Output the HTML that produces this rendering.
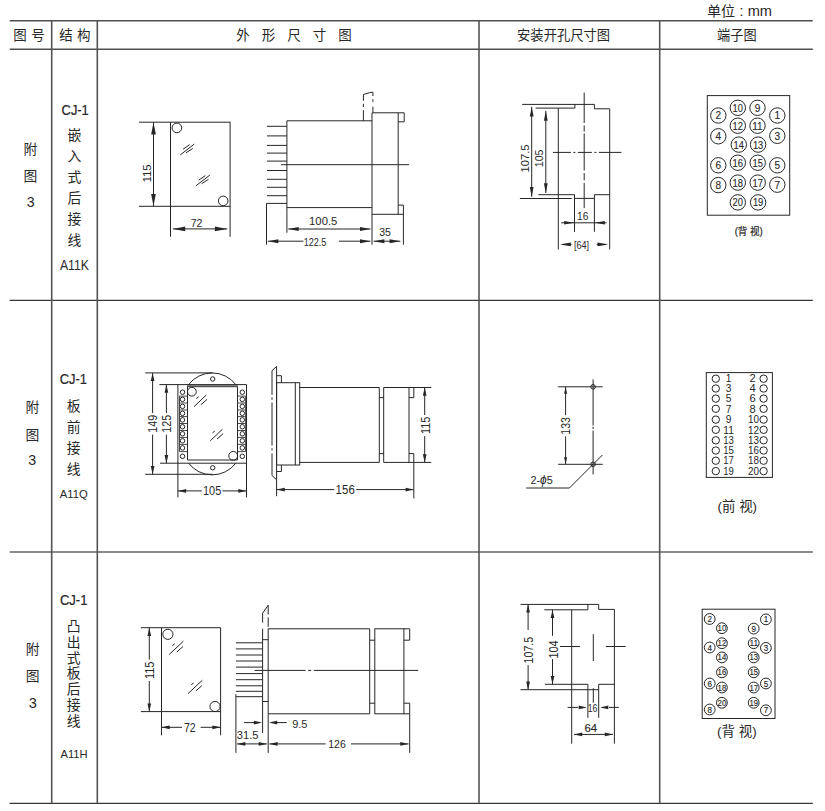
<!DOCTYPE html>
<html lang="zh-CN">
<head>
<meta charset="utf-8">
<title>CJ-1 外形尺寸图 / 安装开孔尺寸图 / 端子图</title>
<style>
html,body{margin:0;padding:0;background:#fff;}
body{width:825px;height:811px;overflow:hidden;}
svg{display:block;}
svg text{font-family:"Liberation Sans", "Noto Sans CJK SC", sans-serif;white-space:pre;}
</style>
</head>
<body>
<svg width="825" height="811" viewBox="0 0 825 811">
<rect x="0" y="0" width="825" height="811" fill="#fff"/>
<line x1="9.7" y1="20.8" x2="812.8" y2="20.8" stroke="#505050" stroke-width="1.6"/>
<line x1="9.7" y1="49.3" x2="812.8" y2="49.3" stroke="#505050" stroke-width="1.5"/>
<line x1="9.7" y1="300.3" x2="812.8" y2="300.3" stroke="#383838" stroke-width="1.15"/>
<line x1="9.7" y1="552" x2="812.8" y2="552" stroke="#646464" stroke-width="1.7"/>
<line x1="9.6" y1="803.3" x2="812.8" y2="803.3" stroke="#383838" stroke-width="1.15"/>
<line x1="51.7" y1="20.8" x2="51.7" y2="803.3" stroke="#545454" stroke-width="1.6"/>
<line x1="97.3" y1="20.8" x2="97.3" y2="803.3" stroke="#545454" stroke-width="1.6"/>
<line x1="479" y1="20.8" x2="479" y2="803.3" stroke="#545454" stroke-width="1.6"/>
<line x1="659.7" y1="20.8" x2="659.7" y2="803.3" stroke="#545454" stroke-width="1.6"/>
<text y="16.4" font-size="14" fill="#282828"><tspan x="707">单位</tspan><tspan x="739.4">:</tspan><tspan x="747.7" font-size="14.4" textLength="24.3" lengthAdjust="spacingAndGlyphs">mm</tspan></text>
<text x="19.9" y="40.4" font-size="13.5" text-anchor="middle" fill="#282828">图</text>
<text x="38" y="40.4" font-size="13.5" text-anchor="middle" fill="#282828">号</text>
<text x="66" y="40.4" font-size="13.5" text-anchor="middle" fill="#282828">结</text>
<text x="83.8" y="40.4" font-size="13.5" text-anchor="middle" fill="#282828">构</text>
<text x="242.9" y="40.4" font-size="13.5" text-anchor="middle" fill="#282828">外</text>
<text x="268.45" y="40.4" font-size="13.5" text-anchor="middle" fill="#282828">形</text>
<text x="294" y="40.4" font-size="13.5" text-anchor="middle" fill="#282828">尺</text>
<text x="319.55" y="40.4" font-size="13.5" text-anchor="middle" fill="#282828">寸</text>
<text x="345.1" y="40.4" font-size="13.5" text-anchor="middle" fill="#282828">图</text>
<text x="563.6" y="40.4" font-size="13.5" text-anchor="middle" fill="#282828" textLength="93.1" lengthAdjust="spacingAndGlyphs">安装开孔尺寸图</text>
<text x="736.8" y="40.4" font-size="13.5" text-anchor="middle" fill="#282828" textLength="39.6" lengthAdjust="spacingAndGlyphs">端子图</text>
<text x="30.4" y="154.47" font-size="13.8" text-anchor="middle" fill="#282828">附</text>
<text x="30.4" y="181.17" font-size="13.8" text-anchor="middle" fill="#282828">图</text>
<text x="30.6" y="206.9" font-size="14.2" text-anchor="middle" fill="#282828">3</text>
<text x="75.2" y="115.4" font-size="14.8" text-anchor="middle" fill="#282828" textLength="27.2" lengthAdjust="spacingAndGlyphs" stroke="#282828" stroke-width="0.22">CJ-1</text>
<text x="74.4" y="140.27" font-size="13.8" text-anchor="middle" fill="#282828">嵌</text>
<text x="74.4" y="161.12" font-size="13.8" text-anchor="middle" fill="#282828">入</text>
<text x="74.4" y="181.97" font-size="13.8" text-anchor="middle" fill="#282828">式</text>
<text x="74.4" y="202.82" font-size="13.8" text-anchor="middle" fill="#282828">后</text>
<text x="74.4" y="223.67" font-size="13.8" text-anchor="middle" fill="#282828">接</text>
<text x="74.4" y="244.52" font-size="13.8" text-anchor="middle" fill="#282828">线</text>
<text x="74.4" y="270.2" font-size="14.6" text-anchor="middle" fill="#282828" textLength="29" lengthAdjust="spacingAndGlyphs">A11K</text>
<text x="32.3" y="412.17" font-size="13.8" text-anchor="middle" fill="#282828">附</text>
<text x="32.3" y="439.57" font-size="13.8" text-anchor="middle" fill="#282828">图</text>
<text x="32.3" y="464.9" font-size="14.2" text-anchor="middle" fill="#282828">3</text>
<text x="73.4" y="384.2" font-size="14.4" text-anchor="middle" fill="#282828" textLength="27.3" lengthAdjust="spacingAndGlyphs" stroke="#282828" stroke-width="0.22">CJ-1</text>
<text x="73.6" y="411.17" font-size="13.8" text-anchor="middle" fill="#282828">板</text>
<text x="73.6" y="431.97" font-size="13.8" text-anchor="middle" fill="#282828">前</text>
<text x="73.6" y="452.77" font-size="13.8" text-anchor="middle" fill="#282828">接</text>
<text x="73.6" y="473.57" font-size="13.8" text-anchor="middle" fill="#282828">线</text>
<text x="73.7" y="497.7" font-size="11.6" text-anchor="middle" fill="#282828" textLength="27.9" lengthAdjust="spacingAndGlyphs">A11Q</text>
<text x="32.7" y="653.97" font-size="13.8" text-anchor="middle" fill="#282828">附</text>
<text x="32.7" y="680.57" font-size="13.8" text-anchor="middle" fill="#282828">图</text>
<text x="32.8" y="708" font-size="14.6" text-anchor="middle" fill="#282828">3</text>
<text x="73.7" y="605.4" font-size="14.8" text-anchor="middle" fill="#282828" textLength="27.6" lengthAdjust="spacingAndGlyphs" stroke="#282828" stroke-width="0.22">CJ-1</text>
<text x="73.6" y="630.87" font-size="13.8" text-anchor="middle" fill="#282828">凸</text>
<text x="73.6" y="646.7" font-size="13.8" text-anchor="middle" fill="#282828">出</text>
<text x="73.6" y="662.53" font-size="13.8" text-anchor="middle" fill="#282828">式</text>
<text x="73.6" y="678.36" font-size="13.8" text-anchor="middle" fill="#282828">板</text>
<text x="73.6" y="694.19" font-size="13.8" text-anchor="middle" fill="#282828">后</text>
<text x="73.6" y="710.02" font-size="13.8" text-anchor="middle" fill="#282828">接</text>
<text x="73.6" y="725.85" font-size="13.8" text-anchor="middle" fill="#282828">线</text>
<text x="74" y="758.1" font-size="11" text-anchor="middle" fill="#282828" textLength="27.1" lengthAdjust="spacingAndGlyphs">A11H</text>
<line x1="139" y1="122.2" x2="230.4" y2="122.2" stroke="#262626" stroke-width="1"/>
<line x1="139" y1="206.3" x2="230.4" y2="206.3" stroke="#262626" stroke-width="1"/>
<line x1="170.5" y1="122.2" x2="170.5" y2="236.8" stroke="#262626" stroke-width="1"/>
<line x1="230.1" y1="122.2" x2="230.1" y2="236.8" stroke="#262626" stroke-width="1"/>
<circle cx="176.9" cy="127.9" r="4.8" fill="none" stroke="#262626" stroke-width="1"/>
<circle cx="223.2" cy="200.9" r="4.8" fill="none" stroke="#262626" stroke-width="1"/>
<line x1="180.25" y1="154.9" x2="194.25" y2="144.1" stroke="#262626" stroke-width="1"/>
<line x1="185.9" y1="152.8" x2="192.8" y2="148.4" stroke="#262626" stroke-width="1"/>
<line x1="183" y1="149.3" x2="189.6" y2="144.7" stroke="#262626" stroke-width="1"/>
<line x1="195.95" y1="185.8" x2="209.95" y2="175" stroke="#262626" stroke-width="1"/>
<line x1="201.6" y1="183.7" x2="208.5" y2="179.3" stroke="#262626" stroke-width="1"/>
<line x1="198.7" y1="180.2" x2="205.3" y2="175.6" stroke="#262626" stroke-width="1"/>
<line x1="153.5" y1="122.2" x2="153.5" y2="206.3" stroke="#262626" stroke-width="1"/>
<polygon points="153.5,122.2 155.85,134.5 151.15,134.5" fill="#262626"/>
<polygon points="153.5,206.3 151.15,194 155.85,194" fill="#262626"/>
<text x="150.98" y="173.4" font-size="11.6" text-anchor="middle" fill="#282828" textLength="18.2" lengthAdjust="spacingAndGlyphs" transform="rotate(-90 150.98 173.4)">115</text>
<line x1="172.9" y1="228.9" x2="227.2" y2="228.9" stroke="#262626" stroke-width="1"/>
<polygon points="172.9,228.9 185.2,226.55 185.2,231.25" fill="#262626"/>
<polygon points="227.2,228.9 214.9,231.25 214.9,226.55" fill="#262626"/>
<text x="196.6" y="226.6" font-size="11.6" text-anchor="middle" fill="#282828" textLength="11.8" lengthAdjust="spacingAndGlyphs">72</text>
<polyline points="286.9,232.8 286.9,120.8 372,120.8" fill="none" stroke="#262626" stroke-width="1"/>
<line x1="286.9" y1="207.6" x2="372" y2="207.6" stroke="#262626" stroke-width="1"/>
<line x1="267" y1="126.3" x2="286.9" y2="126.3" stroke="#262626" stroke-width="1"/>
<line x1="267" y1="135.9" x2="286.9" y2="135.9" stroke="#262626" stroke-width="1"/>
<line x1="267" y1="145.4" x2="286.9" y2="145.4" stroke="#262626" stroke-width="1"/>
<line x1="267" y1="153.1" x2="286.9" y2="153.1" stroke="#262626" stroke-width="1"/>
<line x1="267" y1="161.1" x2="286.9" y2="161.1" stroke="#262626" stroke-width="1"/>
<line x1="267" y1="170.5" x2="286.9" y2="170.5" stroke="#262626" stroke-width="1"/>
<line x1="267" y1="179.3" x2="286.9" y2="179.3" stroke="#262626" stroke-width="1"/>
<line x1="267" y1="187.3" x2="286.9" y2="187.3" stroke="#262626" stroke-width="1"/>
<line x1="267" y1="195.7" x2="286.9" y2="195.7" stroke="#262626" stroke-width="1"/>
<line x1="281.2" y1="164.7" x2="409.1" y2="164.7" stroke="#262626" stroke-width="1"/>
<polyline points="286.9,203.4 266.5,203.4 266.5,244.7" fill="none" stroke="#262626" stroke-width="1"/>
<line x1="372" y1="112.8" x2="372" y2="244.7" stroke="#262626" stroke-width="1"/>
<line x1="372" y1="112.8" x2="404.2" y2="112.8" stroke="#262626" stroke-width="1"/>
<line x1="398.2" y1="112.8" x2="398.2" y2="214.3" stroke="#262626" stroke-width="1"/>
<polyline points="404.2,112.8 404.2,121.8 398.2,121.8" fill="none" stroke="#262626" stroke-width="1"/>
<line x1="372" y1="214.3" x2="403.4" y2="214.3" stroke="#262626" stroke-width="1"/>
<polyline points="398.2,205.1 403.4,205.1 403.4,244.7" fill="none" stroke="#262626" stroke-width="1"/>
<line x1="363.4" y1="120.8" x2="363.4" y2="110.2" stroke="#262626" stroke-width="1"/>
<line x1="363.4" y1="107.1" x2="363.4" y2="103.9" stroke="#262626" stroke-width="1"/>
<polyline points="363.4,100.8 363.4,94.5 369.3,92.7 372.9,92.2 372.9,96" fill="none" stroke="#262626" stroke-width="1"/>
<line x1="372.9" y1="99.2" x2="372.9" y2="101.9" stroke="#262626" stroke-width="1"/>
<line x1="372.9" y1="106.7" x2="372.9" y2="112.6" stroke="#262626" stroke-width="1"/>
<line x1="288.3" y1="229" x2="370.4" y2="229" stroke="#262626" stroke-width="1"/>
<polygon points="288.3,229 298.7,227.05 298.7,230.95" fill="#262626"/>
<polygon points="370.4,229 360,230.95 360,227.05" fill="#262626"/>
<text x="323.2" y="225" font-size="11.6" text-anchor="middle" fill="#282828" textLength="28.2" lengthAdjust="spacingAndGlyphs">100.5</text>
<line x1="267.9" y1="241.2" x2="303.4" y2="241.2" stroke="#262626" stroke-width="1"/>
<line x1="339" y1="241.2" x2="370.4" y2="241.2" stroke="#262626" stroke-width="1"/>
<polygon points="267.9,241.2 278.3,239.25 278.3,243.15" fill="#262626"/>
<polygon points="370.4,241.2 360,243.15 360,239.25" fill="#262626"/>
<text x="315" y="245.9" font-size="10.6" text-anchor="middle" fill="#282828" textLength="22.7" lengthAdjust="spacingAndGlyphs">122.5</text>
<line x1="373.6" y1="241.2" x2="400.4" y2="241.2" stroke="#262626" stroke-width="1"/>
<polygon points="373.6,241.2 384.4,239.25 384.4,243.15" fill="#262626"/>
<polygon points="400.4,241.2 389.6,243.15 389.6,239.25" fill="#262626"/>
<text x="385" y="236.3" font-size="11.6" text-anchor="middle" fill="#282828" textLength="11.7" lengthAdjust="spacingAndGlyphs">35</text>
<polyline points="522.2,104.4 594.4,104.4 594.4,108.8 609.7,108.8 609.7,249.5" fill="none" stroke="#262626" stroke-width="1"/>
<polyline points="535.6,108.1 574.9,108.1 574.9,104.4" fill="none" stroke="#262626" stroke-width="1"/>
<line x1="558.3" y1="108.1" x2="558.3" y2="249.5" stroke="#262626" stroke-width="1"/>
<line x1="584.2" y1="92.6" x2="584.2" y2="208.1" stroke="#262626" stroke-width="1" stroke-dasharray="30.4 2.4 6.2 1.8 37.1 2.6 7.2 2.7 25"/>
<line x1="552.9" y1="152.4" x2="621.4" y2="152.4" stroke="#262626" stroke-width="1" stroke-dasharray="18 2.5 2 2.5 14 2.5 2 2.5 30"/>
<polyline points="538.4,194.7 574.5,194.7 574.5,231.8" fill="none" stroke="#262626" stroke-width="1"/>
<line x1="519.9" y1="198.5" x2="571.8" y2="198.5" stroke="#262626" stroke-width="1"/>
<line x1="574.5" y1="198.4" x2="594.4" y2="198.4" stroke="#262626" stroke-width="1"/>
<polyline points="609.7,194.7 594.4,194.7 594.4,231.8" fill="none" stroke="#262626" stroke-width="1"/>
<line x1="531.7" y1="106.8" x2="531.7" y2="196.8" stroke="#262626" stroke-width="1"/>
<polygon points="531.7,106.8 533.6,116.6 529.8,116.6" fill="#262626"/>
<polygon points="531.7,196.8 529.8,187 533.6,187" fill="#262626"/>
<text x="528.88" y="158.4" font-size="11.6" text-anchor="middle" fill="#282828" textLength="28" lengthAdjust="spacingAndGlyphs" transform="rotate(-90 528.88 158.4)">107.5</text>
<line x1="545.8" y1="110.9" x2="545.8" y2="193" stroke="#262626" stroke-width="1"/>
<polygon points="545.8,110.9 547.7,120.7 543.9,120.7" fill="#262626"/>
<polygon points="545.8,193 543.9,183.2 547.7,183.2" fill="#262626"/>
<text x="543.08" y="158.4" font-size="11.6" text-anchor="middle" fill="#282828" textLength="17.7" lengthAdjust="spacingAndGlyphs" transform="rotate(-90 543.08 158.4)">105</text>
<line x1="561.1" y1="222.8" x2="606.5" y2="222.8" stroke="#262626" stroke-width="1"/>
<polygon points="574.3,222.8 564.1,224.6 564.1,221" fill="#262626"/>
<polygon points="594.6,222.8 604.8,221 604.8,224.6" fill="#262626"/>
<text x="582.8" y="220" font-size="11.6" text-anchor="middle" fill="#282828" textLength="11.4" lengthAdjust="spacingAndGlyphs">16</text>
<line x1="562" y1="244.4" x2="571.6" y2="244.4" stroke="#262626" stroke-width="1"/>
<line x1="596.6" y1="244.4" x2="606" y2="244.4" stroke="#262626" stroke-width="1"/>
<polygon points="560,244.4 570.8,242.6 570.8,246.2" fill="#262626"/>
<polygon points="608.3,244.4 597.5,246.2 597.5,242.6" fill="#262626"/>
<text x="581.6" y="249" font-size="11" text-anchor="middle" fill="#282828" textLength="15.1" lengthAdjust="spacingAndGlyphs">[64]</text>
<rect x="707.3" y="95.6" width="82.4" height="119.6" fill="none" stroke="#262626" stroke-width="1"/>
<circle cx="718.3" cy="115.5" r="7.7" fill="none" stroke="#262626" stroke-width="1"/>
<text x="718.3" y="119.4" font-size="10.8" text-anchor="middle" fill="#282828" textLength="5.6" lengthAdjust="spacingAndGlyphs" stroke="#282828" stroke-width="0.12">2</text>
<circle cx="737.8" cy="107.8" r="7.7" fill="none" stroke="#262626" stroke-width="1"/>
<text x="737.8" y="111.7" font-size="10.8" text-anchor="middle" fill="#282828" textLength="10.4" lengthAdjust="spacingAndGlyphs" stroke="#282828" stroke-width="0.12">10</text>
<circle cx="757.5" cy="107.8" r="7.7" fill="none" stroke="#262626" stroke-width="1"/>
<text x="757.5" y="111.7" font-size="10.8" text-anchor="middle" fill="#282828" textLength="5.6" lengthAdjust="spacingAndGlyphs" stroke="#282828" stroke-width="0.12">9</text>
<circle cx="777.3" cy="115.5" r="7.7" fill="none" stroke="#262626" stroke-width="1"/>
<text x="777.3" y="119.4" font-size="10.8" text-anchor="middle" fill="#282828" textLength="5.6" lengthAdjust="spacingAndGlyphs" stroke="#282828" stroke-width="0.12">1</text>
<circle cx="737.8" cy="125.7" r="7.7" fill="none" stroke="#262626" stroke-width="1"/>
<text x="737.8" y="129.6" font-size="10.8" text-anchor="middle" fill="#282828" textLength="10.4" lengthAdjust="spacingAndGlyphs" stroke="#282828" stroke-width="0.12">12</text>
<circle cx="757.5" cy="125.7" r="7.7" fill="none" stroke="#262626" stroke-width="1"/>
<text x="757.5" y="129.6" font-size="10.8" text-anchor="middle" fill="#282828" textLength="10.4" lengthAdjust="spacingAndGlyphs" stroke="#282828" stroke-width="0.12">11</text>
<circle cx="718.3" cy="136.3" r="7.7" fill="none" stroke="#262626" stroke-width="1"/>
<text x="718.3" y="140.2" font-size="10.8" text-anchor="middle" fill="#282828" textLength="5.6" lengthAdjust="spacingAndGlyphs" stroke="#282828" stroke-width="0.12">4</text>
<circle cx="777.3" cy="135.8" r="7.7" fill="none" stroke="#262626" stroke-width="1"/>
<text x="777.3" y="139.7" font-size="10.8" text-anchor="middle" fill="#282828" textLength="5.6" lengthAdjust="spacingAndGlyphs" stroke="#282828" stroke-width="0.12">3</text>
<circle cx="738.8" cy="144.6" r="7.7" fill="none" stroke="#262626" stroke-width="1"/>
<text x="738.8" y="148.5" font-size="10.8" text-anchor="middle" fill="#282828" textLength="10.4" lengthAdjust="spacingAndGlyphs" stroke="#282828" stroke-width="0.12">14</text>
<circle cx="758.1" cy="144.6" r="7.7" fill="none" stroke="#262626" stroke-width="1"/>
<text x="758.1" y="148.5" font-size="10.8" text-anchor="middle" fill="#282828" textLength="10.4" lengthAdjust="spacingAndGlyphs" stroke="#282828" stroke-width="0.12">13</text>
<circle cx="718.3" cy="165.3" r="7.7" fill="none" stroke="#262626" stroke-width="1"/>
<text x="718.3" y="169.2" font-size="10.8" text-anchor="middle" fill="#282828" textLength="5.6" lengthAdjust="spacingAndGlyphs" stroke="#282828" stroke-width="0.12">6</text>
<circle cx="737.8" cy="162.7" r="7.7" fill="none" stroke="#262626" stroke-width="1"/>
<text x="737.8" y="166.6" font-size="10.8" text-anchor="middle" fill="#282828" textLength="10.4" lengthAdjust="spacingAndGlyphs" stroke="#282828" stroke-width="0.12">16</text>
<circle cx="757.7" cy="162.7" r="7.7" fill="none" stroke="#262626" stroke-width="1"/>
<text x="757.7" y="166.6" font-size="10.8" text-anchor="middle" fill="#282828" textLength="10.4" lengthAdjust="spacingAndGlyphs" stroke="#282828" stroke-width="0.12">15</text>
<circle cx="777.3" cy="165.3" r="7.7" fill="none" stroke="#262626" stroke-width="1"/>
<text x="777.3" y="169.2" font-size="10.8" text-anchor="middle" fill="#282828" textLength="5.6" lengthAdjust="spacingAndGlyphs" stroke="#282828" stroke-width="0.12">5</text>
<circle cx="718.3" cy="185.1" r="7.7" fill="none" stroke="#262626" stroke-width="1"/>
<text x="718.3" y="189" font-size="10.8" text-anchor="middle" fill="#282828" textLength="5.6" lengthAdjust="spacingAndGlyphs" stroke="#282828" stroke-width="0.12">8</text>
<circle cx="737.8" cy="182.6" r="7.7" fill="none" stroke="#262626" stroke-width="1"/>
<text x="737.8" y="186.5" font-size="10.8" text-anchor="middle" fill="#282828" textLength="10.4" lengthAdjust="spacingAndGlyphs" stroke="#282828" stroke-width="0.12">18</text>
<circle cx="757.7" cy="182.6" r="7.7" fill="none" stroke="#262626" stroke-width="1"/>
<text x="757.7" y="186.5" font-size="10.8" text-anchor="middle" fill="#282828" textLength="10.4" lengthAdjust="spacingAndGlyphs" stroke="#282828" stroke-width="0.12">17</text>
<circle cx="777.3" cy="184.7" r="7.7" fill="none" stroke="#262626" stroke-width="1"/>
<text x="777.3" y="188.6" font-size="10.8" text-anchor="middle" fill="#282828" textLength="5.6" lengthAdjust="spacingAndGlyphs" stroke="#282828" stroke-width="0.12">7</text>
<circle cx="737.8" cy="202.4" r="7.7" fill="none" stroke="#262626" stroke-width="1"/>
<text x="737.8" y="206.3" font-size="10.8" text-anchor="middle" fill="#282828" textLength="10.4" lengthAdjust="spacingAndGlyphs" stroke="#282828" stroke-width="0.12">20</text>
<circle cx="758.1" cy="202.4" r="7.7" fill="none" stroke="#262626" stroke-width="1"/>
<text x="758.1" y="206.3" font-size="10.8" text-anchor="middle" fill="#282828" textLength="10.4" lengthAdjust="spacingAndGlyphs" stroke="#282828" stroke-width="0.12">19</text>
<text x="748.7" y="235.1" font-size="10.2" text-anchor="middle" fill="#282828" textLength="28.1" lengthAdjust="spacingAndGlyphs" stroke="#282828" stroke-width="0.2">(背 视)</text>
<line x1="145.2" y1="372.9" x2="212.7" y2="372.9" stroke="#262626" stroke-width="1"/>
<line x1="159.4" y1="384.6" x2="246.5" y2="384.6" stroke="#262626" stroke-width="1"/>
<line x1="160" y1="463.2" x2="246.5" y2="463.2" stroke="#262626" stroke-width="1"/>
<line x1="145.2" y1="474.3" x2="212.7" y2="474.3" stroke="#262626" stroke-width="1"/>
<line x1="177.9" y1="384.6" x2="177.9" y2="497.4" stroke="#262626" stroke-width="1"/>
<line x1="246.5" y1="384.6" x2="246.5" y2="497.4" stroke="#262626" stroke-width="1"/>
<polyline points="187.5,386.6 187.5,460 237.5,460 237.5,386.6" fill="none" stroke="#262626" stroke-width="1"/>
<line x1="187" y1="386.2" x2="238" y2="386.2" stroke="#555" stroke-width="1.9"/>
<path d="M188.6 384.6 A29.7 29.7 0 0 1 235.8 384.6" fill="none" stroke="#262626" stroke-width="1"/>
<path d="M188.6 463.2 A29.7 29.7 0 0 0 235.8 463.2" fill="none" stroke="#262626" stroke-width="1"/>
<circle cx="212.7" cy="379" r="2.2" fill="none" stroke="#262626" stroke-width="1"/>
<circle cx="212.7" cy="467.8" r="2.2" fill="none" stroke="#262626" stroke-width="1"/>
<circle cx="182.5" cy="392.2" r="2.25" fill="none" stroke="#262626" stroke-width="1"/>
<circle cx="182.5" cy="399.4" r="2.25" fill="none" stroke="#262626" stroke-width="1"/>
<circle cx="182.5" cy="406.4" r="2.25" fill="none" stroke="#262626" stroke-width="1"/>
<circle cx="182.5" cy="413.3" r="2.25" fill="none" stroke="#262626" stroke-width="1"/>
<circle cx="182.5" cy="419.9" r="2.25" fill="none" stroke="#262626" stroke-width="1"/>
<circle cx="182.5" cy="426.8" r="2.25" fill="none" stroke="#262626" stroke-width="1"/>
<circle cx="182.5" cy="433.8" r="2.25" fill="none" stroke="#262626" stroke-width="1"/>
<circle cx="182.5" cy="440.8" r="2.25" fill="none" stroke="#262626" stroke-width="1"/>
<circle cx="182.5" cy="447.9" r="2.25" fill="none" stroke="#262626" stroke-width="1"/>
<circle cx="182.5" cy="456.3" r="2.25" fill="none" stroke="#262626" stroke-width="1"/>
<line x1="179.5" y1="396.1" x2="187.4" y2="396.1" stroke="#333" stroke-width="0.9"/>
<line x1="179.5" y1="403" x2="187.4" y2="403" stroke="#333" stroke-width="0.9"/>
<line x1="179.5" y1="410" x2="187.4" y2="410" stroke="#333" stroke-width="0.9"/>
<line x1="179.5" y1="416.6" x2="187.4" y2="416.6" stroke="#333" stroke-width="0.9"/>
<line x1="179.5" y1="423.5" x2="187.4" y2="423.5" stroke="#333" stroke-width="0.9"/>
<line x1="179.5" y1="430.5" x2="187.4" y2="430.5" stroke="#333" stroke-width="0.9"/>
<line x1="179.5" y1="437.4" x2="187.4" y2="437.4" stroke="#333" stroke-width="0.9"/>
<line x1="179.5" y1="444.4" x2="187.4" y2="444.4" stroke="#333" stroke-width="0.9"/>
<line x1="179.5" y1="451.6" x2="187.4" y2="451.6" stroke="#333" stroke-width="0.9"/>
<line x1="179.5" y1="396.1" x2="179.5" y2="451.6" stroke="#333" stroke-width="0.9"/>
<circle cx="242.3" cy="392.2" r="2.25" fill="none" stroke="#262626" stroke-width="1"/>
<circle cx="242.3" cy="399.4" r="2.25" fill="none" stroke="#262626" stroke-width="1"/>
<circle cx="242.3" cy="406.4" r="2.25" fill="none" stroke="#262626" stroke-width="1"/>
<circle cx="242.3" cy="413.3" r="2.25" fill="none" stroke="#262626" stroke-width="1"/>
<circle cx="242.3" cy="419.9" r="2.25" fill="none" stroke="#262626" stroke-width="1"/>
<circle cx="242.3" cy="426.8" r="2.25" fill="none" stroke="#262626" stroke-width="1"/>
<circle cx="242.3" cy="433.8" r="2.25" fill="none" stroke="#262626" stroke-width="1"/>
<circle cx="242.3" cy="440.8" r="2.25" fill="none" stroke="#262626" stroke-width="1"/>
<circle cx="242.3" cy="447.9" r="2.25" fill="none" stroke="#262626" stroke-width="1"/>
<circle cx="242.3" cy="456.3" r="2.25" fill="none" stroke="#262626" stroke-width="1"/>
<line x1="237.6" y1="396.1" x2="245.6" y2="396.1" stroke="#333" stroke-width="0.9"/>
<line x1="237.6" y1="403" x2="245.6" y2="403" stroke="#333" stroke-width="0.9"/>
<line x1="237.6" y1="410" x2="245.6" y2="410" stroke="#333" stroke-width="0.9"/>
<line x1="237.6" y1="416.6" x2="245.6" y2="416.6" stroke="#333" stroke-width="0.9"/>
<line x1="237.6" y1="423.5" x2="245.6" y2="423.5" stroke="#333" stroke-width="0.9"/>
<line x1="237.6" y1="430.5" x2="245.6" y2="430.5" stroke="#333" stroke-width="0.9"/>
<line x1="237.6" y1="437.4" x2="245.6" y2="437.4" stroke="#333" stroke-width="0.9"/>
<line x1="237.6" y1="444.4" x2="245.6" y2="444.4" stroke="#333" stroke-width="0.9"/>
<line x1="237.6" y1="451.6" x2="245.6" y2="451.6" stroke="#333" stroke-width="0.9"/>
<line x1="245.6" y1="396.1" x2="245.6" y2="451.6" stroke="#333" stroke-width="0.9"/>
<circle cx="191.9" cy="391.7" r="4.4" fill="none" stroke="#262626" stroke-width="1"/>
<circle cx="233.2" cy="455.8" r="4.4" fill="none" stroke="#262626" stroke-width="1"/>
<line x1="194.1" y1="406.6" x2="206.3" y2="395" stroke="#262626" stroke-width="1"/>
<line x1="200.8" y1="404.9" x2="207" y2="399.4" stroke="#262626" stroke-width="1"/>
<line x1="196.3" y1="398.6" x2="198.6" y2="396.85" stroke="#262626" stroke-width="1"/>
<line x1="210.3" y1="440.8" x2="222.5" y2="429.2" stroke="#262626" stroke-width="1"/>
<line x1="217" y1="439.1" x2="223.2" y2="433.6" stroke="#262626" stroke-width="1"/>
<line x1="212.5" y1="432.8" x2="214.8" y2="431.05" stroke="#262626" stroke-width="1"/>
<line x1="152.6" y1="372.9" x2="152.6" y2="413" stroke="#262626" stroke-width="1"/>
<line x1="152.6" y1="434.6" x2="152.6" y2="474.3" stroke="#262626" stroke-width="1"/>
<polygon points="152.6,372.9 154.45,381.1 150.75,381.1" fill="#262626"/>
<polygon points="152.6,474.3 150.75,466.1 154.45,466.1" fill="#262626"/>
<text x="157.02" y="423.8" font-size="12" text-anchor="middle" fill="#282828" textLength="17.8" lengthAdjust="spacingAndGlyphs" transform="rotate(-90 157.02 423.8)">149</text>
<line x1="166.4" y1="384.6" x2="166.4" y2="413" stroke="#262626" stroke-width="1"/>
<line x1="166.4" y1="434.6" x2="166.4" y2="463.2" stroke="#262626" stroke-width="1"/>
<polygon points="166.4,384.6 168.25,392.8 164.55,392.8" fill="#262626"/>
<polygon points="166.4,463.2 164.55,455 168.25,455" fill="#262626"/>
<text x="170.82" y="423.8" font-size="12" text-anchor="middle" fill="#282828" textLength="17.8" lengthAdjust="spacingAndGlyphs" transform="rotate(-90 170.82 423.8)">125</text>
<line x1="177.9" y1="490.9" x2="201.8" y2="490.9" stroke="#262626" stroke-width="1"/>
<line x1="222.4" y1="490.9" x2="246.5" y2="490.9" stroke="#262626" stroke-width="1"/>
<polygon points="177.9,490.9 186.1,489.05 186.1,492.75" fill="#262626"/>
<polygon points="246.5,490.9 238.3,492.75 238.3,489.05" fill="#262626"/>
<text x="212.1" y="494.9" font-size="12" text-anchor="middle" fill="#282828" textLength="18.2" lengthAdjust="spacingAndGlyphs">105</text>
<polyline points="276.6,366.4 272,370.7 272,475.5 276.6,479.8" fill="none" stroke="#262626" stroke-width="1"/>
<line x1="272" y1="394.7" x2="272" y2="402.5" stroke="#fff" stroke-width="2.2" stroke-dasharray="2.6 2.4 2.8 20"/>
<line x1="272" y1="445.6" x2="272" y2="453.4" stroke="#fff" stroke-width="2.2" stroke-dasharray="2.6 2.4 2.8 20"/>
<line x1="276.6" y1="366.4" x2="276.6" y2="496.2" stroke="#262626" stroke-width="1"/>
<polyline points="276.6,375.7 281.4,375.7 281.4,382.7" fill="none" stroke="#262626" stroke-width="1"/>
<polyline points="276.6,471.5 281.4,471.5 281.4,465" fill="none" stroke="#262626" stroke-width="1"/>
<rect x="276.6" y="382.7" width="23.1" height="82.3" fill="none" stroke="#262626" stroke-width="1"/>
<line x1="295.3" y1="382.7" x2="295.3" y2="465" stroke="#262626" stroke-width="1"/>
<polyline points="299.7,387.5 379.3,387.5 379.3,462.4 299.7,462.4" fill="none" stroke="#262626" stroke-width="1"/>
<line x1="379.3" y1="397.6" x2="383.7" y2="397.6" stroke="#262626" stroke-width="1"/>
<line x1="379.3" y1="453.6" x2="383.7" y2="453.6" stroke="#262626" stroke-width="1"/>
<polyline points="431.3,387.5 383.7,387.5 383.7,462.4 431.3,462.4" fill="none" stroke="#262626" stroke-width="1"/>
<line x1="409" y1="387.5" x2="409" y2="462.4" stroke="#262626" stroke-width="1"/>
<polyline points="413.8,387.5 413.8,397.6 409,397.6" fill="none" stroke="#262626" stroke-width="1"/>
<polyline points="409,453.6 413.8,453.6 413.8,498.4" fill="none" stroke="#262626" stroke-width="1"/>
<line x1="424.7" y1="387.5" x2="424.7" y2="415" stroke="#262626" stroke-width="1"/>
<line x1="424.7" y1="436" x2="424.7" y2="462.4" stroke="#262626" stroke-width="1"/>
<polygon points="424.7,387.5 426.55,395.7 422.85,395.7" fill="#262626"/>
<polygon points="424.7,462.4 422.85,454.2 426.55,454.2" fill="#262626"/>
<text x="429.52" y="425.3" font-size="12" text-anchor="middle" fill="#282828" textLength="17.4" lengthAdjust="spacingAndGlyphs" transform="rotate(-90 429.52 425.3)">115</text>
<line x1="276.6" y1="489.6" x2="334.2" y2="489.6" stroke="#262626" stroke-width="1"/>
<line x1="356.4" y1="489.6" x2="413.8" y2="489.6" stroke="#262626" stroke-width="1"/>
<polygon points="276.6,489.6 284.8,487.75 284.8,491.45" fill="#262626"/>
<polygon points="413.8,489.6 405.6,491.45 405.6,487.75" fill="#262626"/>
<text x="345.2" y="493.8" font-size="12" text-anchor="middle" fill="#282828" textLength="19.2" lengthAdjust="spacingAndGlyphs">156</text>
<line x1="558.2" y1="386.8" x2="602.8" y2="386.8" stroke="#262626" stroke-width="1"/>
<line x1="558.2" y1="464.3" x2="602.8" y2="464.3" stroke="#262626" stroke-width="1"/>
<line x1="593.1" y1="379.4" x2="593.1" y2="474.4" stroke="#262626" stroke-width="1"/>
<line x1="593.1" y1="425.4" x2="593.1" y2="430.4" stroke="#fff" stroke-width="2" stroke-dasharray="1.4 2.2 1.4 9"/>
<circle cx="593.1" cy="386.8" r="2.3" fill="none" stroke="#262626" stroke-width="1"/>
<circle cx="593.1" cy="464.3" r="2.3" fill="none" stroke="#262626" stroke-width="1"/>
<line x1="565.6" y1="386.8" x2="565.6" y2="415.2" stroke="#262626" stroke-width="1"/>
<line x1="565.6" y1="436.4" x2="565.6" y2="464.3" stroke="#262626" stroke-width="1"/>
<polygon points="565.6,386.8 567.1,393.8 564.1,393.8" fill="#262626"/>
<polygon points="565.6,464.3 564.1,457.3 567.1,457.3" fill="#262626"/>
<text x="569.72" y="425.9" font-size="12" text-anchor="middle" fill="#282828" textLength="17.5" lengthAdjust="spacingAndGlyphs" transform="rotate(-90 569.72 425.9)">133</text>
<polyline points="602.4,455 569.4,488 526.2,488" fill="none" stroke="#262626" stroke-width="1"/>
<text x="530.4" y="484.2" font-size="11.8" fill="#282828" textLength="22.4" lengthAdjust="spacingAndGlyphs">2-<tspan font-style="italic" font-size="13">ϕ</tspan>5</text>
<rect x="706.3" y="372.6" width="66.1" height="104.8" fill="none" stroke="#262626" stroke-width="1"/>
<circle cx="715.8" cy="378.7" r="3.7" fill="none" stroke="#262626" stroke-width="1"/>
<circle cx="763.6" cy="378.7" r="3.7" fill="none" stroke="#262626" stroke-width="1"/>
<text x="728.6" y="382.4" font-size="10.6" text-anchor="middle" fill="#282828" textLength="5.7" lengthAdjust="spacingAndGlyphs">1</text>
<text x="752.6" y="382.4" font-size="10.6" text-anchor="middle" fill="#282828" textLength="6.2" lengthAdjust="spacingAndGlyphs">2</text>
<circle cx="715.8" cy="388.5" r="3.7" fill="none" stroke="#262626" stroke-width="1"/>
<circle cx="763.6" cy="388.5" r="3.7" fill="none" stroke="#262626" stroke-width="1"/>
<text x="728.6" y="392.2" font-size="10.6" text-anchor="middle" fill="#282828" textLength="5.7" lengthAdjust="spacingAndGlyphs">3</text>
<text x="752.6" y="392.2" font-size="10.6" text-anchor="middle" fill="#282828" textLength="6.2" lengthAdjust="spacingAndGlyphs">4</text>
<circle cx="715.8" cy="398.6" r="3.7" fill="none" stroke="#262626" stroke-width="1"/>
<circle cx="763.6" cy="398.6" r="3.7" fill="none" stroke="#262626" stroke-width="1"/>
<text x="728.6" y="402.3" font-size="10.6" text-anchor="middle" fill="#282828" textLength="5.7" lengthAdjust="spacingAndGlyphs">5</text>
<text x="752.6" y="402.3" font-size="10.6" text-anchor="middle" fill="#282828" textLength="6.2" lengthAdjust="spacingAndGlyphs">6</text>
<circle cx="715.8" cy="408.8" r="3.7" fill="none" stroke="#262626" stroke-width="1"/>
<circle cx="763.6" cy="408.8" r="3.7" fill="none" stroke="#262626" stroke-width="1"/>
<text x="728.6" y="412.5" font-size="10.6" text-anchor="middle" fill="#282828" textLength="5.7" lengthAdjust="spacingAndGlyphs">7</text>
<text x="752.6" y="412.5" font-size="10.6" text-anchor="middle" fill="#282828" textLength="6.2" lengthAdjust="spacingAndGlyphs">8</text>
<circle cx="715.8" cy="419.6" r="3.7" fill="none" stroke="#262626" stroke-width="1"/>
<circle cx="763.6" cy="419.6" r="3.7" fill="none" stroke="#262626" stroke-width="1"/>
<text x="728.6" y="423.3" font-size="10.6" text-anchor="middle" fill="#282828" textLength="5.7" lengthAdjust="spacingAndGlyphs">9</text>
<text x="753.4" y="423.3" font-size="10.6" text-anchor="middle" fill="#282828" textLength="11" lengthAdjust="spacingAndGlyphs">10</text>
<circle cx="715.8" cy="429.8" r="3.7" fill="none" stroke="#262626" stroke-width="1"/>
<circle cx="763.6" cy="429.8" r="3.7" fill="none" stroke="#262626" stroke-width="1"/>
<text x="728.6" y="433.5" font-size="10.6" text-anchor="middle" fill="#282828" textLength="10.6" lengthAdjust="spacingAndGlyphs">11</text>
<text x="753.4" y="433.5" font-size="10.6" text-anchor="middle" fill="#282828" textLength="11" lengthAdjust="spacingAndGlyphs">12</text>
<circle cx="715.8" cy="440.3" r="3.7" fill="none" stroke="#262626" stroke-width="1"/>
<circle cx="763.6" cy="440.3" r="3.7" fill="none" stroke="#262626" stroke-width="1"/>
<text x="728.6" y="444" font-size="10.6" text-anchor="middle" fill="#282828" textLength="10.6" lengthAdjust="spacingAndGlyphs">13</text>
<text x="753.4" y="444" font-size="10.6" text-anchor="middle" fill="#282828" textLength="11" lengthAdjust="spacingAndGlyphs">13</text>
<circle cx="715.8" cy="450.5" r="3.7" fill="none" stroke="#262626" stroke-width="1"/>
<circle cx="763.6" cy="450.5" r="3.7" fill="none" stroke="#262626" stroke-width="1"/>
<text x="728.6" y="454.2" font-size="10.6" text-anchor="middle" fill="#282828" textLength="10.6" lengthAdjust="spacingAndGlyphs">15</text>
<text x="753.4" y="454.2" font-size="10.6" text-anchor="middle" fill="#282828" textLength="11" lengthAdjust="spacingAndGlyphs">16</text>
<circle cx="715.8" cy="460.7" r="3.7" fill="none" stroke="#262626" stroke-width="1"/>
<circle cx="763.6" cy="460.7" r="3.7" fill="none" stroke="#262626" stroke-width="1"/>
<text x="728.6" y="464.4" font-size="10.6" text-anchor="middle" fill="#282828" textLength="10.6" lengthAdjust="spacingAndGlyphs">17</text>
<text x="753.4" y="464.4" font-size="10.6" text-anchor="middle" fill="#282828" textLength="11" lengthAdjust="spacingAndGlyphs">18</text>
<circle cx="715.8" cy="471.1" r="3.7" fill="none" stroke="#262626" stroke-width="1"/>
<circle cx="763.6" cy="471.1" r="3.7" fill="none" stroke="#262626" stroke-width="1"/>
<text x="728.6" y="474.8" font-size="10.6" text-anchor="middle" fill="#282828" textLength="10.6" lengthAdjust="spacingAndGlyphs">19</text>
<text x="753.4" y="474.8" font-size="10.6" text-anchor="middle" fill="#282828" textLength="11" lengthAdjust="spacingAndGlyphs">20</text>
<text x="737.3" y="511" font-size="13.4" text-anchor="middle" fill="#282828" textLength="39.6" lengthAdjust="spacingAndGlyphs">(前 视)</text>
<line x1="140.9" y1="627.7" x2="220.6" y2="627.7" stroke="#262626" stroke-width="1"/>
<line x1="140.9" y1="711.6" x2="220.6" y2="711.6" stroke="#262626" stroke-width="1"/>
<line x1="161.5" y1="627.7" x2="161.5" y2="735.3" stroke="#262626" stroke-width="1"/>
<line x1="220.6" y1="627.7" x2="220.6" y2="735.3" stroke="#262626" stroke-width="1"/>
<circle cx="167.9" cy="634.3" r="5.1" fill="none" stroke="#262626" stroke-width="1"/>
<circle cx="215" cy="706.5" r="5.1" fill="none" stroke="#262626" stroke-width="1"/>
<line x1="169.2" y1="654.5" x2="183.4" y2="641.2" stroke="#262626" stroke-width="1"/>
<line x1="176.9" y1="651.95" x2="183.1" y2="646.45" stroke="#262626" stroke-width="1"/>
<line x1="172.4" y1="645.65" x2="174.7" y2="643.9" stroke="#262626" stroke-width="1"/>
<line x1="188.1" y1="693.55" x2="202.3" y2="680.25" stroke="#262626" stroke-width="1"/>
<line x1="195.8" y1="691" x2="202" y2="685.5" stroke="#262626" stroke-width="1"/>
<line x1="191.3" y1="684.7" x2="193.6" y2="682.95" stroke="#262626" stroke-width="1"/>
<line x1="149.3" y1="627.7" x2="149.3" y2="659.6" stroke="#262626" stroke-width="1"/>
<line x1="149.3" y1="681" x2="149.3" y2="711.6" stroke="#262626" stroke-width="1"/>
<polygon points="149.3,627.7 151.15,635.9 147.45,635.9" fill="#262626"/>
<polygon points="149.3,711.6 147.45,703.4 151.15,703.4" fill="#262626"/>
<text x="153.62" y="670.3" font-size="12" text-anchor="middle" fill="#282828" textLength="17.6" lengthAdjust="spacingAndGlyphs" transform="rotate(-90 153.62 670.3)">115</text>
<line x1="161.5" y1="727.3" x2="182" y2="727.3" stroke="#262626" stroke-width="1"/>
<line x1="200.6" y1="727.3" x2="220.6" y2="727.3" stroke="#262626" stroke-width="1"/>
<polygon points="161.5,727.3 169.7,725.45 169.7,729.15" fill="#262626"/>
<polygon points="220.6,727.3 212.4,729.15 212.4,725.45" fill="#262626"/>
<text x="189.8" y="731.6" font-size="12.2" text-anchor="middle" fill="#282828" textLength="11.8" lengthAdjust="spacingAndGlyphs">72</text>
<line x1="235.9" y1="642.8" x2="262.6" y2="642.8" stroke="#262626" stroke-width="1"/>
<line x1="235.9" y1="648.9" x2="262.6" y2="648.9" stroke="#262626" stroke-width="1"/>
<line x1="235.9" y1="655" x2="262.6" y2="655" stroke="#262626" stroke-width="1"/>
<line x1="235.9" y1="661" x2="262.6" y2="661" stroke="#262626" stroke-width="1"/>
<line x1="235.9" y1="667.1" x2="262.6" y2="667.1" stroke="#262626" stroke-width="1"/>
<line x1="235.9" y1="673.6" x2="262.6" y2="673.6" stroke="#262626" stroke-width="1"/>
<line x1="235.9" y1="679.7" x2="262.6" y2="679.7" stroke="#262626" stroke-width="1"/>
<line x1="235.9" y1="685.8" x2="262.6" y2="685.8" stroke="#262626" stroke-width="1"/>
<line x1="235.9" y1="691.3" x2="262.6" y2="691.3" stroke="#262626" stroke-width="1"/>
<line x1="235.9" y1="696.7" x2="262.6" y2="696.7" stroke="#262626" stroke-width="1"/>
<line x1="235.9" y1="694.2" x2="235.9" y2="752.9" stroke="#262626" stroke-width="1"/>
<line x1="262.6" y1="628.8" x2="262.6" y2="733" stroke="#262626" stroke-width="1"/>
<line x1="262.6" y1="639.7" x2="268.2" y2="639.7" stroke="#262626" stroke-width="1"/>
<line x1="262.6" y1="701.5" x2="268.2" y2="701.5" stroke="#262626" stroke-width="1"/>
<line x1="268.2" y1="628.8" x2="268.2" y2="752.9" stroke="#262626" stroke-width="1"/>
<polyline points="262.6,622.6 262.6,613.2 268.2,605.2 268.2,614.5" fill="none" stroke="#262626" stroke-width="1"/>
<line x1="268.2" y1="617.4" x2="268.2" y2="626.8" stroke="#262626" stroke-width="1"/>
<polyline points="268.2,628.8 369.7,628.8 369.7,713.8 268.2,713.8" fill="none" stroke="#262626" stroke-width="1"/>
<line x1="369.7" y1="640.2" x2="374.8" y2="640.2" stroke="#262626" stroke-width="1"/>
<line x1="369.7" y1="703.2" x2="374.8" y2="703.2" stroke="#262626" stroke-width="1"/>
<rect x="374.8" y="628.8" width="29.1" height="85" fill="none" stroke="#262626" stroke-width="1"/>
<polyline points="403.9,628.8 409.7,628.8 409.7,640.2 403.9,640.2" fill="none" stroke="#262626" stroke-width="1"/>
<polyline points="403.9,703.2 409.7,703.2 409.7,752.9" fill="none" stroke="#262626" stroke-width="1"/>
<line x1="403.9" y1="713.8" x2="409.7" y2="713.8" stroke="#262626" stroke-width="1"/>
<line x1="254.6" y1="670.4" x2="418.2" y2="670.4" stroke="#262626" stroke-width="1" stroke-dasharray="51 2.6 3 2.6 200"/>
<line x1="243.9" y1="722.6" x2="260" y2="722.6" stroke="#262626" stroke-width="1"/>
<polygon points="262,722.6 253.8,724.45 253.8,720.75" fill="#262626"/>
<line x1="271" y1="722.6" x2="286.8" y2="722.6" stroke="#262626" stroke-width="1"/>
<polygon points="269,722.6 277.2,720.75 277.2,724.45" fill="#262626"/>
<text x="299.8" y="728" font-size="11.6" text-anchor="middle" fill="#282828" textLength="15.2" lengthAdjust="spacingAndGlyphs">9.5</text>
<line x1="237.1" y1="743.9" x2="266.9" y2="743.9" stroke="#262626" stroke-width="1"/>
<polygon points="237.1,743.9 245.3,742.05 245.3,745.75" fill="#262626"/>
<polygon points="266.9,743.9 258.7,745.75 258.7,742.05" fill="#262626"/>
<text x="247.6" y="739" font-size="11.4" text-anchor="middle" fill="#282828" textLength="21.6" lengthAdjust="spacingAndGlyphs">31.5</text>
<line x1="269.4" y1="743.9" x2="325.6" y2="743.9" stroke="#262626" stroke-width="1"/>
<line x1="351" y1="743.9" x2="408.5" y2="743.9" stroke="#262626" stroke-width="1"/>
<polygon points="269.4,743.9 277.6,742.05 277.6,745.75" fill="#262626"/>
<polygon points="408.5,743.9 400.3,745.75 400.3,742.05" fill="#262626"/>
<text x="337" y="748" font-size="11.6" text-anchor="middle" fill="#282828" textLength="17.6" lengthAdjust="spacingAndGlyphs">126</text>
<polyline points="520.5,604.4 598.7,604.4 598.7,609.4 614.4,609.4 614.4,743.7" fill="none" stroke="#262626" stroke-width="1"/>
<polyline points="544.3,609.8 587.9,609.8 587.9,604.4" fill="none" stroke="#262626" stroke-width="1"/>
<line x1="571.7" y1="609.8" x2="571.7" y2="743.7" stroke="#262626" stroke-width="1"/>
<line x1="593.3" y1="634.2" x2="593.3" y2="661" stroke="#262626" stroke-width="1"/>
<line x1="560" y1="646.5" x2="579.9" y2="646.5" stroke="#262626" stroke-width="1"/>
<line x1="605.8" y1="646.5" x2="625.7" y2="646.5" stroke="#262626" stroke-width="1"/>
<polyline points="544.9,684.3 587.9,684.3 587.9,717.8" fill="none" stroke="#262626" stroke-width="1"/>
<line x1="520.5" y1="689.7" x2="598.7" y2="689.7" stroke="#262626" stroke-width="1"/>
<polyline points="614.4,684.3 598.7,684.3 598.7,717.8" fill="none" stroke="#262626" stroke-width="1"/>
<line x1="593.3" y1="688.2" x2="593.3" y2="702.7" stroke="#262626" stroke-width="1"/>
<line x1="528.1" y1="604.4" x2="528.1" y2="630" stroke="#262626" stroke-width="1"/>
<line x1="528.1" y1="665" x2="528.1" y2="689.7" stroke="#262626" stroke-width="1"/>
<polygon points="528.1,604.4 529.95,612.6 526.25,612.6" fill="#262626"/>
<polygon points="528.1,689.7 526.25,681.5 529.95,681.5" fill="#262626"/>
<text x="533.02" y="650.1" font-size="12" text-anchor="middle" fill="#282828" textLength="26.7" lengthAdjust="spacingAndGlyphs" transform="rotate(-90 533.02 650.1)">107.5</text>
<line x1="552.5" y1="609.8" x2="552.5" y2="635.8" stroke="#262626" stroke-width="1"/>
<line x1="552.5" y1="659.1" x2="552.5" y2="684.3" stroke="#262626" stroke-width="1"/>
<polygon points="552.5,609.8 554.35,618 550.65,618" fill="#262626"/>
<polygon points="552.5,684.3 550.65,676.1 554.35,676.1" fill="#262626"/>
<text x="557.52" y="649.4" font-size="12" text-anchor="middle" fill="#282828" textLength="18.1" lengthAdjust="spacingAndGlyphs" transform="rotate(-90 557.52 649.4)">104</text>
<line x1="567.6" y1="707.4" x2="578" y2="707.4" stroke="#262626" stroke-width="1"/>
<polygon points="586.9,707.4 578.7,709.25 578.7,705.55" fill="#262626"/>
<line x1="609" y1="707.4" x2="618.8" y2="707.4" stroke="#262626" stroke-width="1"/>
<polygon points="600.1,707.4 608.3,705.55 608.3,709.25" fill="#262626"/>
<text x="592.5" y="712.2" font-size="10.8" text-anchor="middle" fill="#282828" textLength="9.6" lengthAdjust="spacingAndGlyphs">16</text>
<line x1="574" y1="734.4" x2="613" y2="734.4" stroke="#262626" stroke-width="1"/>
<polygon points="574,734.4 582.2,732.55 582.2,736.25" fill="#262626"/>
<polygon points="613,734.4 604.8,736.25 604.8,732.55" fill="#262626"/>
<text x="590.7" y="732.2" font-size="11" text-anchor="middle" fill="#282828" textLength="12.6" lengthAdjust="spacingAndGlyphs" stroke="#282828" stroke-width="0.15">64</text>
<rect x="702.2" y="609.2" width="72.8" height="109.3" fill="none" stroke="#262626" stroke-width="1"/>
<circle cx="709.7" cy="619" r="5.4" fill="none" stroke="#262626" stroke-width="1"/>
<text x="709.7" y="622" font-size="8.4" text-anchor="middle" fill="#282828" textLength="4.5" lengthAdjust="spacingAndGlyphs" stroke="#282828" stroke-width="0.15">2</text>
<circle cx="765.9" cy="619.4" r="5.4" fill="none" stroke="#262626" stroke-width="1"/>
<text x="765.9" y="622.4" font-size="8.4" text-anchor="middle" fill="#282828" textLength="4.5" lengthAdjust="spacingAndGlyphs" stroke="#282828" stroke-width="0.15">1</text>
<circle cx="721.9" cy="628.2" r="5.4" fill="none" stroke="#262626" stroke-width="1"/>
<text x="721.9" y="631.2" font-size="8.4" text-anchor="middle" fill="#282828" textLength="8.6" lengthAdjust="spacingAndGlyphs" stroke="#282828" stroke-width="0.15">10</text>
<circle cx="753.7" cy="628.6" r="5.4" fill="none" stroke="#262626" stroke-width="1"/>
<text x="753.7" y="631.6" font-size="8.4" text-anchor="middle" fill="#282828" textLength="4.5" lengthAdjust="spacingAndGlyphs" stroke="#282828" stroke-width="0.15">9</text>
<circle cx="721.9" cy="643.2" r="5.4" fill="none" stroke="#262626" stroke-width="1"/>
<text x="721.9" y="646.2" font-size="8.4" text-anchor="middle" fill="#282828" textLength="8.6" lengthAdjust="spacingAndGlyphs" stroke="#282828" stroke-width="0.15">12</text>
<circle cx="753.7" cy="643.2" r="5.4" fill="none" stroke="#262626" stroke-width="1"/>
<text x="753.7" y="646.2" font-size="8.4" text-anchor="middle" fill="#282828" textLength="8.6" lengthAdjust="spacingAndGlyphs" stroke="#282828" stroke-width="0.15">11</text>
<circle cx="709.7" cy="647.5" r="5.4" fill="none" stroke="#262626" stroke-width="1"/>
<text x="709.7" y="650.5" font-size="8.4" text-anchor="middle" fill="#282828" textLength="4.5" lengthAdjust="spacingAndGlyphs" stroke="#282828" stroke-width="0.15">4</text>
<circle cx="765.9" cy="647.9" r="5.4" fill="none" stroke="#262626" stroke-width="1"/>
<text x="765.9" y="650.9" font-size="8.4" text-anchor="middle" fill="#282828" textLength="4.5" lengthAdjust="spacingAndGlyphs" stroke="#282828" stroke-width="0.15">3</text>
<circle cx="721.9" cy="657.4" r="5.4" fill="none" stroke="#262626" stroke-width="1"/>
<text x="721.9" y="660.4" font-size="8.4" text-anchor="middle" fill="#282828" textLength="8.6" lengthAdjust="spacingAndGlyphs" stroke="#282828" stroke-width="0.15">14</text>
<circle cx="753.7" cy="657.4" r="5.4" fill="none" stroke="#262626" stroke-width="1"/>
<text x="753.7" y="660.4" font-size="8.4" text-anchor="middle" fill="#282828" textLength="8.6" lengthAdjust="spacingAndGlyphs" stroke="#282828" stroke-width="0.15">13</text>
<circle cx="721.9" cy="672.3" r="5.4" fill="none" stroke="#262626" stroke-width="1"/>
<text x="721.9" y="675.3" font-size="8.4" text-anchor="middle" fill="#282828" textLength="8.6" lengthAdjust="spacingAndGlyphs" stroke="#282828" stroke-width="0.15">16</text>
<circle cx="753.7" cy="672.3" r="5.4" fill="none" stroke="#262626" stroke-width="1"/>
<text x="753.7" y="675.3" font-size="8.4" text-anchor="middle" fill="#282828" textLength="8.6" lengthAdjust="spacingAndGlyphs" stroke="#282828" stroke-width="0.15">15</text>
<circle cx="709.7" cy="683.5" r="5.4" fill="none" stroke="#262626" stroke-width="1"/>
<text x="709.7" y="686.5" font-size="8.4" text-anchor="middle" fill="#282828" textLength="4.5" lengthAdjust="spacingAndGlyphs" stroke="#282828" stroke-width="0.15">6</text>
<circle cx="765.9" cy="683.5" r="5.4" fill="none" stroke="#262626" stroke-width="1"/>
<text x="765.9" y="686.5" font-size="8.4" text-anchor="middle" fill="#282828" textLength="4.5" lengthAdjust="spacingAndGlyphs" stroke="#282828" stroke-width="0.15">5</text>
<circle cx="721.9" cy="687.5" r="5.4" fill="none" stroke="#262626" stroke-width="1"/>
<text x="721.9" y="690.5" font-size="8.4" text-anchor="middle" fill="#282828" textLength="8.6" lengthAdjust="spacingAndGlyphs" stroke="#282828" stroke-width="0.15">18</text>
<circle cx="753.7" cy="687.5" r="5.4" fill="none" stroke="#262626" stroke-width="1"/>
<text x="753.7" y="690.5" font-size="8.4" text-anchor="middle" fill="#282828" textLength="8.6" lengthAdjust="spacingAndGlyphs" stroke="#282828" stroke-width="0.15">17</text>
<circle cx="721.9" cy="702.8" r="5.4" fill="none" stroke="#262626" stroke-width="1"/>
<text x="721.9" y="705.8" font-size="8.4" text-anchor="middle" fill="#282828" textLength="8.6" lengthAdjust="spacingAndGlyphs" stroke="#282828" stroke-width="0.15">20</text>
<circle cx="753.7" cy="702.8" r="5.4" fill="none" stroke="#262626" stroke-width="1"/>
<text x="753.7" y="705.8" font-size="8.4" text-anchor="middle" fill="#282828" textLength="8.6" lengthAdjust="spacingAndGlyphs" stroke="#282828" stroke-width="0.15">19</text>
<circle cx="709.7" cy="709.5" r="5.4" fill="none" stroke="#262626" stroke-width="1"/>
<text x="709.7" y="712.5" font-size="8.4" text-anchor="middle" fill="#282828" textLength="4.5" lengthAdjust="spacingAndGlyphs" stroke="#282828" stroke-width="0.15">8</text>
<circle cx="765.9" cy="710.3" r="5.4" fill="none" stroke="#262626" stroke-width="1"/>
<text x="765.9" y="713.3" font-size="8.4" text-anchor="middle" fill="#282828" textLength="4.5" lengthAdjust="spacingAndGlyphs" stroke="#282828" stroke-width="0.15">7</text>
<text x="736.9" y="736" font-size="13.4" text-anchor="middle" fill="#282828" textLength="39.6" lengthAdjust="spacingAndGlyphs">(背 视)</text>
</svg>
</body>
</html>
